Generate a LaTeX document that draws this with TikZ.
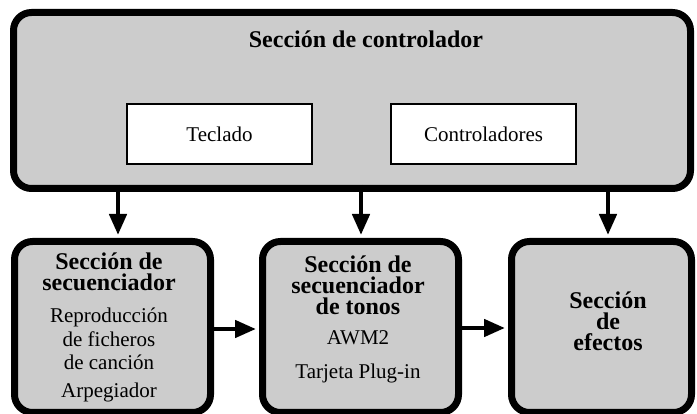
\documentclass[tikz,border=0pt]{standalone}
\usepackage{fontspec}
\setmainfont{Liberation Serif}
\usetikzlibrary{arrows.meta}
\definecolor{boxgray}{HTML}{CCCCCC}
\begin{document}
\begin{tikzpicture}[x=1pt,y=-1pt,
  section/.style={draw=black,line width=7pt,fill=boxgray,rounded corners=18pt},
  inner/.style={draw=black,line width=2.5pt,fill=white,minimum width=185pt,minimum height=60pt,font=\fontsize{21}{24}\selectfont},
  conn/.style={line width=4.5pt,shorten >=3pt,-{Triangle[length=21pt,width=17pt]}},
  hd/.style={font=\fontsize{24}{21}\selectfont\bfseries,align=center,anchor=base,inner sep=0pt},
  tx/.style={font=\fontsize{21}{23.5}\selectfont,align=center,anchor=base,inner sep=0pt}]
\useasboundingbox (0,0) rectangle (697,414);
\node[section,minimum width=677pt,minimum height=176pt,anchor=north west] (ctrl) at (10,9) {};
\node[hd] (ctrlt) at (366,48) {Sección de controlador};
\node[inner] (tec) at (219.5,134) {Teclado};
\node[inner] (con) at (483.5,134) {Controladores};
\node[section,minimum width=196pt,minimum height=171pt,anchor=north west] (seq) at (11,238) {};
\node[section,minimum width=196pt,minimum height=171pt,anchor=north west] (ton) at (259,238) {};
\node[section,minimum width=180pt,minimum height=171pt,anchor=north west] (efe) at (508,238) {};
\node[hd] (seqh) at (109,291) {Sección de\\secuenciador};
\node[tx] (seqt) at (109,370) {Reproducción\\de ficheros\\de canción};
\node[tx] (seqa) at (109,398) {Arpegiador};
\node[hd] (tonh) at (358,315) {Sección de\\secuenciador\\de tonos};
\node[tx] (tont) at (358,345) {AWM2};
\node[tx] (tonp) at (358,378) {Tarjeta Plug-in};
\node[hd] (efeh) at (608,351) {Sección\\de\\efectos};
\coordinate (a1) at (118,185);
\coordinate (a2) at (361,185);
\coordinate (a3) at (608,185);
\draw[conn] (a1) -- (a1 |- seq.north);
\draw[conn] (a2) -- (a2 |- ton.north);
\draw[conn] (a3) -- (a3 |- efe.north);
\draw[conn] (seq.east |- 0,329) -- (ton.west |- 0,329);
\draw[conn] (ton.east |- 0,328) -- (efe.west |- 0,328);
\end{tikzpicture}
\end{document}
